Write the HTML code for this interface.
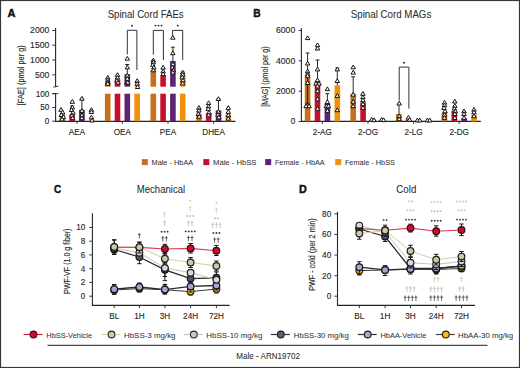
<!DOCTYPE html>
<html><head><meta charset="utf-8"><style>
html,body{margin:0;padding:0;background:#fff;}
svg{display:block;font-family:"Liberation Sans", sans-serif;}
text{stroke-width:0.12px;}
</style></head><body>
<svg width="520" height="368" viewBox="0 0 520 368">
<rect width="520" height="368" fill="#fff"/>
<rect x="0.55" y="0.55" width="518.9" height="366.9" fill="none" stroke="#383838" stroke-width="1.1"/>
<text x="7.4" y="17.2" font-size="11.4" text-anchor="start" fill="#111" stroke="#111" font-weight="bold" textLength="8.0" lengthAdjust="spacingAndGlyphs" style="stroke-width:0.45px">A</text>
<text x="253.2" y="17.2" font-size="11.4" text-anchor="start" fill="#111" stroke="#111" font-weight="bold" textLength="7.4" lengthAdjust="spacingAndGlyphs" style="stroke-width:0.45px">B</text>
<text x="54.0" y="192.5" font-size="11.4" text-anchor="start" fill="#111" stroke="#111" font-weight="bold" textLength="7.2" lengthAdjust="spacingAndGlyphs" style="stroke-width:0.45px">C</text>
<text x="299.0" y="192.5" font-size="11.4" text-anchor="start" fill="#111" stroke="#111" font-weight="bold" textLength="7.8" lengthAdjust="spacingAndGlyphs" style="stroke-width:0.45px">D</text>
<text x="107.7" y="17.7" font-size="10.4" text-anchor="start" fill="#2a2a2a" stroke="#2a2a2a" font-weight="normal" textLength="76" lengthAdjust="spacingAndGlyphs" style="stroke-width:0.05px">Spinal Cord FAEs</text>
<text x="350.8" y="17.7" font-size="10.4" text-anchor="start" fill="#2a2a2a" stroke="#2a2a2a" font-weight="normal" textLength="80.5" lengthAdjust="spacingAndGlyphs" style="stroke-width:0.05px">Spinal Cord MAGs</text>
<text x="136.8" y="192.7" font-size="10.4" text-anchor="start" fill="#2a2a2a" stroke="#2a2a2a" font-weight="normal" textLength="48.3" lengthAdjust="spacingAndGlyphs" style="stroke-width:0.05px">Mechanical</text>
<text x="396.3" y="192.7" font-size="10.4" text-anchor="start" fill="#2a2a2a" stroke="#2a2a2a" font-weight="normal" textLength="20" lengthAdjust="spacingAndGlyphs" style="stroke-width:0.05px">Cold</text>
<line x1="55.6" y1="28" x2="55.6" y2="86.7" stroke="#262626" stroke-width="1.1" />
<line x1="53.4" y1="87.2" x2="58.3" y2="86.2" stroke="#262626" stroke-width="0.9" />
<line x1="52.2" y1="30.5" x2="55.6" y2="30.5" stroke="#262626" stroke-width="0.9" />
<text x="49.3" y="33.4" font-size="8.2" text-anchor="end" fill="#262626" stroke="#262626" font-weight="normal" textLength="19.2" lengthAdjust="spacingAndGlyphs" >2000</text>
<line x1="52.2" y1="45.2" x2="55.6" y2="45.2" stroke="#262626" stroke-width="0.9" />
<text x="49.3" y="48.1" font-size="8.2" text-anchor="end" fill="#262626" stroke="#262626" font-weight="normal" textLength="19.2" lengthAdjust="spacingAndGlyphs" >1500</text>
<line x1="52.2" y1="60.0" x2="55.6" y2="60.0" stroke="#262626" stroke-width="0.9" />
<text x="49.3" y="62.9" font-size="8.2" text-anchor="end" fill="#262626" stroke="#262626" font-weight="normal" textLength="19.2" lengthAdjust="spacingAndGlyphs" >1000</text>
<line x1="52.2" y1="74.8" x2="55.6" y2="74.8" stroke="#262626" stroke-width="0.9" />
<text x="49.3" y="77.7" font-size="8.2" text-anchor="end" fill="#262626" stroke="#262626" font-weight="normal" textLength="14.4" lengthAdjust="spacingAndGlyphs" >500</text>
<line x1="55.6" y1="93.6" x2="55.6" y2="121.5" stroke="#262626" stroke-width="1.1" />
<line x1="52.2" y1="93.6" x2="58.3" y2="93.6" stroke="#262626" stroke-width="0.9" />
<line x1="52.2" y1="93.7" x2="55.6" y2="93.7" stroke="#262626" stroke-width="0.9" />
<text x="49.3" y="96.60000000000001" font-size="8.2" text-anchor="end" fill="#262626" stroke="#262626" font-weight="normal" >100</text>
<line x1="52.2" y1="107.5" x2="55.6" y2="107.5" stroke="#262626" stroke-width="0.9" />
<text x="49.3" y="110.4" font-size="8.2" text-anchor="end" fill="#262626" stroke="#262626" font-weight="normal" >50</text>
<line x1="52.2" y1="121.2" x2="55.6" y2="121.2" stroke="#262626" stroke-width="0.9" />
<text x="49.3" y="124.10000000000001" font-size="8.2" text-anchor="end" fill="#262626" stroke="#262626" font-weight="normal" >0</text>
<line x1="55.1" y1="121.4" x2="235.5" y2="121.4" stroke="#262626" stroke-width="1.1" />
<text x="0" y="0" font-size="8.3" fill="#262626" stroke="#262626" text-anchor="middle" textLength="60" lengthAdjust="spacingAndGlyphs" transform="translate(23.6,75.2) rotate(-90)">[FAE] (pmol per g)</text>
<line x1="77.0" y1="121.3" x2="77.0" y2="123.8" stroke="#262626" stroke-width="0.9" />
<text x="77.0" y="135.0" font-size="8.2" text-anchor="middle" fill="#262626" stroke="#262626" font-weight="normal" >AEA</text>
<line x1="122.4" y1="121.3" x2="122.4" y2="123.8" stroke="#262626" stroke-width="0.9" />
<text x="122.4" y="135.0" font-size="8.2" text-anchor="middle" fill="#262626" stroke="#262626" font-weight="normal" >OEA</text>
<line x1="168.0" y1="121.3" x2="168.0" y2="123.8" stroke="#262626" stroke-width="0.9" />
<text x="168.0" y="135.0" font-size="8.2" text-anchor="middle" fill="#262626" stroke="#262626" font-weight="normal" >PEA</text>
<line x1="213.6" y1="121.3" x2="213.6" y2="123.8" stroke="#262626" stroke-width="0.9" />
<text x="213.6" y="135.0" font-size="8.2" text-anchor="middle" fill="#262626" stroke="#262626" font-weight="normal" >DHEA</text>
<line x1="301.4" y1="28" x2="301.4" y2="121.9" stroke="#262626" stroke-width="1.1" />
<line x1="298.6" y1="30.5" x2="301.4" y2="30.5" stroke="#262626" stroke-width="0.9" />
<text x="295.2" y="33.4" font-size="8.2" text-anchor="end" fill="#262626" stroke="#262626" font-weight="normal" textLength="19.2" lengthAdjust="spacingAndGlyphs" >6000</text>
<line x1="298.6" y1="60.8" x2="301.4" y2="60.8" stroke="#262626" stroke-width="0.9" />
<text x="295.2" y="63.699999999999996" font-size="8.2" text-anchor="end" fill="#262626" stroke="#262626" font-weight="normal" textLength="19.2" lengthAdjust="spacingAndGlyphs" >4000</text>
<line x1="298.6" y1="91.2" x2="301.4" y2="91.2" stroke="#262626" stroke-width="0.9" />
<text x="295.2" y="94.10000000000001" font-size="8.2" text-anchor="end" fill="#262626" stroke="#262626" font-weight="normal" textLength="19.2" lengthAdjust="spacingAndGlyphs" >2000</text>
<line x1="298.6" y1="121.5" x2="301.4" y2="121.5" stroke="#262626" stroke-width="0.9" />
<text x="295.2" y="124.4" font-size="8.2" text-anchor="end" fill="#262626" stroke="#262626" font-weight="normal" >0</text>
<line x1="300.9" y1="121.4" x2="480.8" y2="121.4" stroke="#262626" stroke-width="1.1" />
<text x="0" y="0" font-size="8.3" fill="#262626" stroke="#262626" text-anchor="middle" textLength="60.5" lengthAdjust="spacingAndGlyphs" transform="translate(268.4,76.6) rotate(-90)">[MAG] (pmol per g)</text>
<line x1="322.4" y1="121.6" x2="322.4" y2="124.0" stroke="#262626" stroke-width="0.9" />
<text x="322.4" y="135.3" font-size="8.2" text-anchor="middle" fill="#262626" stroke="#262626" font-weight="normal" >2-AG</text>
<line x1="368.0" y1="121.6" x2="368.0" y2="124.0" stroke="#262626" stroke-width="0.9" />
<text x="368.0" y="135.3" font-size="8.2" text-anchor="middle" fill="#262626" stroke="#262626" font-weight="normal" >2-OG</text>
<line x1="413.6" y1="121.6" x2="413.6" y2="124.0" stroke="#262626" stroke-width="0.9" />
<text x="413.6" y="135.3" font-size="8.2" text-anchor="middle" fill="#262626" stroke="#262626" font-weight="normal" >2-LG</text>
<line x1="459.2" y1="121.6" x2="459.2" y2="124.0" stroke="#262626" stroke-width="0.9" />
<text x="459.2" y="135.3" font-size="8.2" text-anchor="middle" fill="#262626" stroke="#262626" font-weight="normal" >2-DG</text>
<rect x="141.8" y="159.1" width="6.0" height="6.0" fill="#c4701c" />
<text x="151.5" y="165.1" font-size="8.0" text-anchor="start" fill="#333" stroke="#333" font-weight="normal" textLength="41.7" lengthAdjust="spacingAndGlyphs" style="stroke-width:0.05px">Male - HbAA</text>
<rect x="203.3" y="159.1" width="6.0" height="6.0" fill="#c8102e" />
<text x="213.0" y="165.1" font-size="8.0" text-anchor="start" fill="#333" stroke="#333" font-weight="normal" textLength="43.5" lengthAdjust="spacingAndGlyphs" style="stroke-width:0.05px">Male - HbSS</text>
<rect x="265.2" y="159.1" width="6.0" height="6.0" fill="#5b2372" />
<text x="274.9" y="165.1" font-size="8.0" text-anchor="start" fill="#333" stroke="#333" font-weight="normal" textLength="49.8" lengthAdjust="spacingAndGlyphs" style="stroke-width:0.05px">Female - HbAA</text>
<rect x="335.2" y="159.1" width="6.0" height="6.0" fill="#f0900c" />
<text x="344.9" y="165.1" font-size="8.0" text-anchor="start" fill="#333" stroke="#333" font-weight="normal" textLength="50.0" lengthAdjust="spacingAndGlyphs" style="stroke-width:0.05px">Female - HbSS</text>
<line x1="92.4" y1="213.3" x2="92.4" y2="305.9" stroke="#262626" stroke-width="1.1" />
<line x1="89.2" y1="296.2" x2="92.4" y2="296.2" stroke="#262626" stroke-width="0.9" />
<text x="85.4" y="299.09999999999997" font-size="8.2" text-anchor="end" fill="#262626" stroke="#262626" font-weight="normal" >0</text>
<line x1="89.2" y1="282.44" x2="92.4" y2="282.44" stroke="#262626" stroke-width="0.9" />
<text x="85.4" y="285.34" font-size="8.2" text-anchor="end" fill="#262626" stroke="#262626" font-weight="normal" >2</text>
<line x1="89.2" y1="268.68" x2="92.4" y2="268.68" stroke="#262626" stroke-width="0.9" />
<text x="85.4" y="271.58" font-size="8.2" text-anchor="end" fill="#262626" stroke="#262626" font-weight="normal" >4</text>
<line x1="89.2" y1="254.92" x2="92.4" y2="254.92" stroke="#262626" stroke-width="0.9" />
<text x="85.4" y="257.82" font-size="8.2" text-anchor="end" fill="#262626" stroke="#262626" font-weight="normal" >6</text>
<line x1="89.2" y1="241.16" x2="92.4" y2="241.16" stroke="#262626" stroke-width="0.9" />
<text x="85.4" y="244.06" font-size="8.2" text-anchor="end" fill="#262626" stroke="#262626" font-weight="normal" >8</text>
<line x1="89.2" y1="227.39999999999998" x2="92.4" y2="227.39999999999998" stroke="#262626" stroke-width="0.9" />
<text x="85.4" y="230.29999999999998" font-size="8.2" text-anchor="end" fill="#262626" stroke="#262626" font-weight="normal" >10</text>
<line x1="91.9" y1="305.4" x2="229.6" y2="305.4" stroke="#262626" stroke-width="1.1" />
<text x="0" y="0" font-size="8.3" fill="#262626" stroke="#262626" text-anchor="middle" textLength="65.5" lengthAdjust="spacingAndGlyphs" transform="translate(69.8,261.3) rotate(-90)">PWF-VF (1.0 g fiber)</text>
<line x1="114.2" y1="305.2" x2="114.2" y2="308.2" stroke="#262626" stroke-width="0.9" />
<text x="114.2" y="318.8" font-size="8.2" text-anchor="middle" fill="#262626" stroke="#262626" font-weight="normal" >BL</text>
<line x1="139.4" y1="305.2" x2="139.4" y2="308.2" stroke="#262626" stroke-width="0.9" />
<text x="139.4" y="318.8" font-size="8.2" text-anchor="middle" fill="#262626" stroke="#262626" font-weight="normal" >1H</text>
<line x1="164.9" y1="305.2" x2="164.9" y2="308.2" stroke="#262626" stroke-width="0.9" />
<text x="164.9" y="318.8" font-size="8.2" text-anchor="middle" fill="#262626" stroke="#262626" font-weight="normal" >3H</text>
<line x1="190.6" y1="305.2" x2="190.6" y2="308.2" stroke="#262626" stroke-width="0.9" />
<text x="190.6" y="318.8" font-size="8.2" text-anchor="middle" fill="#262626" stroke="#262626" font-weight="normal" >24H</text>
<line x1="216.4" y1="305.2" x2="216.4" y2="308.2" stroke="#262626" stroke-width="0.9" />
<text x="216.4" y="318.8" font-size="8.2" text-anchor="middle" fill="#262626" stroke="#262626" font-weight="normal" >72H</text>
<line x1="337.5" y1="211.8" x2="337.5" y2="305.9" stroke="#262626" stroke-width="1.1" />
<line x1="334.4" y1="296.2" x2="337.5" y2="296.2" stroke="#262626" stroke-width="0.9" />
<text x="331.2" y="299.09999999999997" font-size="8.2" text-anchor="end" fill="#262626" stroke="#262626" font-weight="normal" >0</text>
<line x1="334.4" y1="275.64" x2="337.5" y2="275.64" stroke="#262626" stroke-width="0.9" />
<text x="331.2" y="278.53999999999996" font-size="8.2" text-anchor="end" fill="#262626" stroke="#262626" font-weight="normal" >20</text>
<line x1="334.4" y1="255.07999999999998" x2="337.5" y2="255.07999999999998" stroke="#262626" stroke-width="0.9" />
<text x="331.2" y="257.97999999999996" font-size="8.2" text-anchor="end" fill="#262626" stroke="#262626" font-weight="normal" >40</text>
<line x1="334.4" y1="234.51999999999998" x2="337.5" y2="234.51999999999998" stroke="#262626" stroke-width="0.9" />
<text x="331.2" y="237.42" font-size="8.2" text-anchor="end" fill="#262626" stroke="#262626" font-weight="normal" >60</text>
<line x1="334.4" y1="213.95999999999998" x2="337.5" y2="213.95999999999998" stroke="#262626" stroke-width="0.9" />
<text x="331.2" y="216.85999999999999" font-size="8.2" text-anchor="end" fill="#262626" stroke="#262626" font-weight="normal" >80</text>
<line x1="337.0" y1="305.4" x2="475.0" y2="305.4" stroke="#262626" stroke-width="1.1" />
<text x="0" y="0" font-size="8.3" fill="#262626" stroke="#262626" text-anchor="middle" textLength="72.5" lengthAdjust="spacingAndGlyphs" transform="translate(314.6,254.6) rotate(-90)">PWF - cold (per 2 min)</text>
<line x1="359.3" y1="305.2" x2="359.3" y2="308.2" stroke="#262626" stroke-width="0.9" />
<text x="359.3" y="318.8" font-size="8.2" text-anchor="middle" fill="#262626" stroke="#262626" font-weight="normal" >BL</text>
<line x1="385.1" y1="305.2" x2="385.1" y2="308.2" stroke="#262626" stroke-width="0.9" />
<text x="385.1" y="318.8" font-size="8.2" text-anchor="middle" fill="#262626" stroke="#262626" font-weight="normal" >1H</text>
<line x1="410.5" y1="305.2" x2="410.5" y2="308.2" stroke="#262626" stroke-width="0.9" />
<text x="410.5" y="318.8" font-size="8.2" text-anchor="middle" fill="#262626" stroke="#262626" font-weight="normal" >3H</text>
<line x1="436.2" y1="305.2" x2="436.2" y2="308.2" stroke="#262626" stroke-width="0.9" />
<text x="436.2" y="318.8" font-size="8.2" text-anchor="middle" fill="#262626" stroke="#262626" font-weight="normal" >24H</text>
<line x1="461.5" y1="305.2" x2="461.5" y2="308.2" stroke="#262626" stroke-width="0.9" />
<text x="461.5" y="318.8" font-size="8.2" text-anchor="middle" fill="#262626" stroke="#262626" font-weight="normal" >72H</text>
<line x1="23.5" y1="334.5" x2="42.5" y2="334.5" stroke="#d0203a" stroke-width="1.2" />
<circle cx="33.5" cy="334.5" r="3.4" fill="#c8102e" stroke="#4a0a14" stroke-width="1.1"/>
<text x="46.3" y="337.5" font-size="8.0" text-anchor="start" fill="#333" stroke="#333" font-weight="normal" textLength="45.7" lengthAdjust="spacingAndGlyphs" style="stroke-width:0.05px">HbSS-Vehicle</text>
<line x1="101.5" y1="334.5" x2="120.5" y2="334.5" stroke="#d6dab0" stroke-width="1.2" />
<circle cx="111.5" cy="334.5" r="3.4" fill="#c2cea6" stroke="#2a2a2a" stroke-width="1.1"/>
<text x="124.0" y="337.5" font-size="8.0" text-anchor="start" fill="#333" stroke="#333" font-weight="normal" textLength="51.5" lengthAdjust="spacingAndGlyphs" style="stroke-width:0.05px">HbSS-3 mg/kg</text>
<line x1="183.8" y1="334.5" x2="202.8" y2="334.5" stroke="#c8c8c8" stroke-width="1.2" />
<circle cx="193.8" cy="334.5" r="3.4" fill="#c9c9cc" stroke="#2a2a2a" stroke-width="1.1"/>
<text x="206.3" y="337.5" font-size="8.0" text-anchor="start" fill="#333" stroke="#333" font-weight="normal" textLength="56.0" lengthAdjust="spacingAndGlyphs" style="stroke-width:0.05px">HbSS-10 mg/kg</text>
<line x1="270.8" y1="334.5" x2="289.8" y2="334.5" stroke="#2e2e2e" stroke-width="1.2" />
<circle cx="280.8" cy="334.5" r="3.4" fill="#596177" stroke="#1e1e24" stroke-width="1.1"/>
<text x="293.8" y="337.5" font-size="8.0" text-anchor="start" fill="#333" stroke="#333" font-weight="normal" textLength="55.0" lengthAdjust="spacingAndGlyphs" style="stroke-width:0.05px">HbSS-30 mg/kg</text>
<line x1="357.7" y1="334.5" x2="376.7" y2="334.5" stroke="#2e2e2e" stroke-width="1.2" />
<circle cx="367.7" cy="334.5" r="3.4" fill="#a5a5d6" stroke="#1e1e24" stroke-width="1.1"/>
<text x="380.4" y="337.5" font-size="8.0" text-anchor="start" fill="#333" stroke="#333" font-weight="normal" textLength="46.0" lengthAdjust="spacingAndGlyphs" style="stroke-width:0.05px">HbAA-Vehicle</text>
<line x1="435.8" y1="334.5" x2="454.8" y2="334.5" stroke="#444" stroke-width="1.2" />
<circle cx="445.8" cy="334.5" r="3.4" fill="#f4bd2a" stroke="#2e2200" stroke-width="1.1"/>
<text x="458.0" y="337.5" font-size="8.0" text-anchor="start" fill="#333" stroke="#333" font-weight="normal" textLength="55.2" lengthAdjust="spacingAndGlyphs" style="stroke-width:0.05px">HbAA-30 mg/kg</text>
<line x1="47.5" y1="345.3" x2="487.5" y2="345.3" stroke="#222" stroke-width="1" />
<text x="236.3" y="359.1" font-size="8.5" text-anchor="start" fill="#2a2a2a" stroke="#2a2a2a" font-weight="normal" textLength="63.7" lengthAdjust="spacingAndGlyphs" style="stroke-width:0.05px">Male - ARN19702</text>
<rect x="59.5" y="114.5" width="5.6" height="6.700000000000003" fill="#c4701c" />
<rect x="69.3" y="114.3" width="5.6" height="6.900000000000006" fill="#c8102e" />
<rect x="79.10000000000001" y="109.8" width="5.6" height="11.400000000000006" fill="#5b2372" />
<rect x="88.9" y="119.4" width="5.6" height="1.7999999999999972" fill="#f0900c" />
<rect x="104.9" y="93.7" width="5.6" height="27.5" fill="#c4701c" />
<rect x="104.9" y="82.3" width="5.6" height="4.400000000000006" fill="#c4701c" />
<rect x="114.7" y="93.7" width="5.6" height="27.5" fill="#c8102e" />
<rect x="114.7" y="79.8" width="5.6" height="6.900000000000006" fill="#c8102e" />
<rect x="124.50000000000001" y="93.7" width="5.6" height="27.5" fill="#5b2372" />
<rect x="124.50000000000001" y="74.2" width="5.6" height="12.5" fill="#5b2372" />
<rect x="134.29999999999998" y="93.7" width="5.6" height="27.5" fill="#f0900c" />
<rect x="134.29999999999998" y="85.6" width="5.6" height="1.1000000000000085" fill="#f0900c" />
<rect x="150.5" y="93.7" width="5.6" height="27.5" fill="#c4701c" />
<rect x="150.5" y="70.7" width="5.6" height="16.0" fill="#c4701c" />
<rect x="160.29999999999998" y="93.7" width="5.6" height="27.5" fill="#c8102e" />
<rect x="160.29999999999998" y="75.5" width="5.6" height="11.200000000000003" fill="#c8102e" />
<rect x="170.1" y="93.7" width="5.6" height="27.5" fill="#5b2372" />
<rect x="170.1" y="60.9" width="5.6" height="25.800000000000004" fill="#5b2372" />
<rect x="179.89999999999998" y="93.7" width="5.6" height="27.5" fill="#f0900c" />
<rect x="179.89999999999998" y="75.5" width="5.6" height="11.200000000000003" fill="#f0900c" />
<rect x="196.1" y="113.8" width="5.6" height="7.400000000000006" fill="#c4701c" />
<rect x="205.89999999999998" y="113.1" width="5.6" height="8.100000000000009" fill="#c8102e" />
<rect x="215.7" y="110.4" width="5.6" height="10.799999999999997" fill="#5b2372" />
<rect x="225.49999999999997" y="114.5" width="5.6" height="6.700000000000003" fill="#f0900c" />
<line x1="72.1" y1="106.0" x2="72.1" y2="114.3" stroke="#111" stroke-width="0.9" />
<line x1="70.1" y1="106.0" x2="74.1" y2="106.0" stroke="#111" stroke-width="0.9" />
<line x1="81.9" y1="98.6" x2="81.9" y2="109.8" stroke="#111" stroke-width="0.9" />
<line x1="79.9" y1="98.6" x2="83.9" y2="98.6" stroke="#111" stroke-width="0.9" />
<line x1="127.30000000000001" y1="64.5" x2="127.30000000000001" y2="74.2" stroke="#111" stroke-width="0.9" />
<line x1="125.30000000000001" y1="64.5" x2="129.3" y2="64.5" stroke="#111" stroke-width="0.9" />
<line x1="153.3" y1="60.3" x2="153.3" y2="70.7" stroke="#111" stroke-width="0.9" />
<line x1="151.3" y1="60.3" x2="155.3" y2="60.3" stroke="#111" stroke-width="0.9" />
<line x1="163.1" y1="72.3" x2="163.1" y2="75.5" stroke="#111" stroke-width="0.9" />
<line x1="161.1" y1="72.3" x2="165.1" y2="72.3" stroke="#111" stroke-width="0.9" />
<line x1="172.9" y1="47.2" x2="172.9" y2="60.9" stroke="#111" stroke-width="0.9" />
<line x1="170.9" y1="47.2" x2="174.9" y2="47.2" stroke="#111" stroke-width="0.9" />
<line x1="182.7" y1="72.0" x2="182.7" y2="75.5" stroke="#111" stroke-width="0.9" />
<line x1="180.7" y1="72.0" x2="184.7" y2="72.0" stroke="#111" stroke-width="0.9" />
<line x1="218.5" y1="98.8" x2="218.5" y2="110.4" stroke="#111" stroke-width="0.9" />
<line x1="216.5" y1="98.8" x2="220.5" y2="98.8" stroke="#111" stroke-width="0.9" />
<path d="M61.00,107.50 L63.25,111.30 L58.75,111.30 Z" fill="#fff" stroke="#151515" stroke-width="1.0" stroke-linejoin="round"/>
<path d="M62.60,110.10 L64.85,113.90 L60.35,113.90 Z" fill="#fff" stroke="#151515" stroke-width="1.0" stroke-linejoin="round"/>
<path d="M61.40,112.70 L63.65,116.50 L59.15,116.50 Z" fill="#fff" stroke="#151515" stroke-width="1.0" stroke-linejoin="round"/>
<path d="M63.40,114.90 L65.65,118.70 L61.15,118.70 Z" fill="#fff" stroke="#151515" stroke-width="1.0" stroke-linejoin="round"/>
<path d="M62.00,117.10 L64.25,120.90 L59.75,120.90 Z" fill="#fff" stroke="#151515" stroke-width="1.0" stroke-linejoin="round"/>
<path d="M72.30,99.50 L74.55,103.30 L70.05,103.30 Z" fill="#fff" stroke="#151515" stroke-width="1.0" stroke-linejoin="round"/>
<path d="M72.30,105.10 L74.55,108.90 L70.05,108.90 Z" fill="#fff" stroke="#151515" stroke-width="1.0" stroke-linejoin="round"/>
<path d="M71.60,107.70 L73.85,111.50 L69.35,111.50 Z" fill="#fff" stroke="#151515" stroke-width="1.0" stroke-linejoin="round"/>
<path d="M73.00,110.30 L75.25,114.10 L70.75,114.10 Z" fill="#fff" stroke="#151515" stroke-width="1.0" stroke-linejoin="round"/>
<path d="M72.00,113.40 L74.25,117.20 L69.75,117.20 Z" fill="#fff" stroke="#151515" stroke-width="1.0" stroke-linejoin="round"/>
<path d="M72.60,115.90 L74.85,119.70 L70.35,119.70 Z" fill="#fff" stroke="#151515" stroke-width="1.0" stroke-linejoin="round"/>
<path d="M81.90,96.40 L84.15,100.20 L79.65,100.20 Z" fill="#fff" stroke="#151515" stroke-width="1.0" stroke-linejoin="round"/>
<path d="M81.90,108.60 L84.15,112.40 L79.65,112.40 Z" fill="#fff" stroke="#151515" stroke-width="1.0" stroke-linejoin="round"/>
<path d="M81.90,112.90 L84.15,116.70 L79.65,116.70 Z" fill="#fff" stroke="#151515" stroke-width="1.0" stroke-linejoin="round"/>
<path d="M81.90,115.90 L84.15,119.70 L79.65,119.70 Z" fill="#fff" stroke="#151515" stroke-width="1.0" stroke-linejoin="round"/>
<path d="M91.40,107.70 L93.65,111.50 L89.15,111.50 Z" fill="#fff" stroke="#151515" stroke-width="1.0" stroke-linejoin="round"/>
<path d="M91.40,109.70 L93.65,113.50 L89.15,113.50 Z" fill="#fff" stroke="#151515" stroke-width="1.0" stroke-linejoin="round"/>
<path d="M91.40,115.10 L93.65,118.90 L89.15,118.90 Z" fill="#fff" stroke="#151515" stroke-width="1.0" stroke-linejoin="round"/>
<path d="M92.00,118.20 L94.25,122.00 L89.75,122.00 Z" fill="#fff" stroke="#151515" stroke-width="1.0" stroke-linejoin="round"/>
<path d="M107.80,75.40 L110.05,79.20 L105.55,79.20 Z" fill="#fff" stroke="#151515" stroke-width="1.0" stroke-linejoin="round"/>
<path d="M107.80,77.70 L110.05,81.50 L105.55,81.50 Z" fill="#fff" stroke="#151515" stroke-width="1.0" stroke-linejoin="round"/>
<path d="M107.80,79.90 L110.05,83.70 L105.55,83.70 Z" fill="#fff" stroke="#151515" stroke-width="1.0" stroke-linejoin="round"/>
<path d="M107.80,81.50 L110.05,85.30 L105.55,85.30 Z" fill="#fff" stroke="#151515" stroke-width="1.0" stroke-linejoin="round"/>
<path d="M117.50,72.70 L119.75,76.50 L115.25,76.50 Z" fill="#fff" stroke="#151515" stroke-width="1.0" stroke-linejoin="round"/>
<path d="M117.50,75.40 L119.75,79.20 L115.25,79.20 Z" fill="#fff" stroke="#151515" stroke-width="1.0" stroke-linejoin="round"/>
<path d="M117.00,78.20 L119.25,82.00 L114.75,82.00 Z" fill="#fff" stroke="#151515" stroke-width="1.0" stroke-linejoin="round"/>
<path d="M118.00,80.30 L120.25,84.10 L115.75,84.10 Z" fill="#fff" stroke="#151515" stroke-width="1.0" stroke-linejoin="round"/>
<path d="M127.30,56.40 L129.55,60.20 L125.05,60.20 Z" fill="#fff" stroke="#151515" stroke-width="1.0" stroke-linejoin="round"/>
<path d="M127.30,65.10 L129.55,68.90 L125.05,68.90 Z" fill="#fff" stroke="#151515" stroke-width="1.0" stroke-linejoin="round"/>
<path d="M127.30,73.30 L129.55,77.10 L125.05,77.10 Z" fill="#fff" stroke="#151515" stroke-width="1.0" stroke-linejoin="round"/>
<path d="M127.30,76.50 L129.55,80.30 L125.05,80.30 Z" fill="#fff" stroke="#151515" stroke-width="1.0" stroke-linejoin="round"/>
<path d="M126.80,80.30 L129.05,84.10 L124.55,84.10 Z" fill="#fff" stroke="#151515" stroke-width="1.0" stroke-linejoin="round"/>
<path d="M127.80,80.30 L130.05,84.10 L125.55,84.10 Z" fill="#fff" stroke="#151515" stroke-width="1.0" stroke-linejoin="round"/>
<path d="M137.20,78.70 L139.45,82.50 L134.95,82.50 Z" fill="#fff" stroke="#151515" stroke-width="1.0" stroke-linejoin="round"/>
<path d="M137.20,81.40 L139.45,85.20 L134.95,85.20 Z" fill="#fff" stroke="#151515" stroke-width="1.0" stroke-linejoin="round"/>
<path d="M137.60,84.70 L139.85,88.50 L135.35,88.50 Z" fill="#fff" stroke="#151515" stroke-width="1.0" stroke-linejoin="round"/>
<path d="M153.30,58.20 L155.55,62.00 L151.05,62.00 Z" fill="#fff" stroke="#151515" stroke-width="1.0" stroke-linejoin="round"/>
<path d="M153.30,60.10 L155.55,63.90 L151.05,63.90 Z" fill="#fff" stroke="#151515" stroke-width="1.0" stroke-linejoin="round"/>
<path d="M152.80,62.60 L155.05,66.40 L150.55,66.40 Z" fill="#fff" stroke="#151515" stroke-width="1.0" stroke-linejoin="round"/>
<path d="M153.80,65.30 L156.05,69.10 L151.55,69.10 Z" fill="#fff" stroke="#151515" stroke-width="1.0" stroke-linejoin="round"/>
<path d="M153.30,68.00 L155.55,71.80 L151.05,71.80 Z" fill="#fff" stroke="#151515" stroke-width="1.0" stroke-linejoin="round"/>
<path d="M163.10,65.30 L165.35,69.10 L160.85,69.10 Z" fill="#fff" stroke="#151515" stroke-width="1.0" stroke-linejoin="round"/>
<path d="M163.10,69.10 L165.35,72.90 L160.85,72.90 Z" fill="#fff" stroke="#151515" stroke-width="1.0" stroke-linejoin="round"/>
<path d="M163.10,71.80 L165.35,75.60 L160.85,75.60 Z" fill="#fff" stroke="#151515" stroke-width="1.0" stroke-linejoin="round"/>
<path d="M172.80,35.40 L175.05,39.20 L170.55,39.20 Z" fill="#fff" stroke="#151515" stroke-width="1.0" stroke-linejoin="round"/>
<path d="M172.80,50.90 L175.05,54.70 L170.55,54.70 Z" fill="#fff" stroke="#151515" stroke-width="1.0" stroke-linejoin="round"/>
<path d="M172.80,62.00 L175.05,65.80 L170.55,65.80 Z" fill="#fff" stroke="#151515" stroke-width="1.0" stroke-linejoin="round"/>
<path d="M172.30,65.30 L174.55,69.10 L170.05,69.10 Z" fill="#fff" stroke="#151515" stroke-width="1.0" stroke-linejoin="round"/>
<path d="M173.30,68.00 L175.55,71.80 L171.05,71.80 Z" fill="#fff" stroke="#151515" stroke-width="1.0" stroke-linejoin="round"/>
<path d="M172.80,70.20 L175.05,74.00 L170.55,74.00 Z" fill="#fff" stroke="#151515" stroke-width="1.0" stroke-linejoin="round"/>
<path d="M182.70,70.20 L184.95,74.00 L180.45,74.00 Z" fill="#fff" stroke="#151515" stroke-width="1.0" stroke-linejoin="round"/>
<path d="M182.70,72.40 L184.95,76.20 L180.45,76.20 Z" fill="#fff" stroke="#151515" stroke-width="1.0" stroke-linejoin="round"/>
<path d="M182.20,75.10 L184.45,78.90 L179.95,78.90 Z" fill="#fff" stroke="#151515" stroke-width="1.0" stroke-linejoin="round"/>
<path d="M183.00,78.30 L185.25,82.10 L180.75,82.10 Z" fill="#fff" stroke="#151515" stroke-width="1.0" stroke-linejoin="round"/>
<path d="M182.70,81.10 L184.95,84.90 L180.45,84.90 Z" fill="#fff" stroke="#151515" stroke-width="1.0" stroke-linejoin="round"/>
<path d="M198.90,105.60 L201.15,109.40 L196.65,109.40 Z" fill="#fff" stroke="#151515" stroke-width="1.0" stroke-linejoin="round"/>
<path d="M198.90,108.30 L201.15,112.10 L196.65,112.10 Z" fill="#fff" stroke="#151515" stroke-width="1.0" stroke-linejoin="round"/>
<path d="M198.40,111.70 L200.65,115.50 L196.15,115.50 Z" fill="#fff" stroke="#151515" stroke-width="1.0" stroke-linejoin="round"/>
<path d="M199.20,114.40 L201.45,118.20 L196.95,118.20 Z" fill="#fff" stroke="#151515" stroke-width="1.0" stroke-linejoin="round"/>
<path d="M208.60,100.80 L210.85,104.60 L206.35,104.60 Z" fill="#fff" stroke="#151515" stroke-width="1.0" stroke-linejoin="round"/>
<path d="M208.60,104.20 L210.85,108.00 L206.35,108.00 Z" fill="#fff" stroke="#151515" stroke-width="1.0" stroke-linejoin="round"/>
<path d="M208.20,106.90 L210.45,110.70 L205.95,110.70 Z" fill="#fff" stroke="#151515" stroke-width="1.0" stroke-linejoin="round"/>
<path d="M209.00,110.30 L211.25,114.10 L206.75,114.10 Z" fill="#fff" stroke="#151515" stroke-width="1.0" stroke-linejoin="round"/>
<path d="M208.60,113.00 L210.85,116.80 L206.35,116.80 Z" fill="#fff" stroke="#151515" stroke-width="1.0" stroke-linejoin="round"/>
<path d="M218.40,96.70 L220.65,100.50 L216.15,100.50 Z" fill="#fff" stroke="#151515" stroke-width="1.0" stroke-linejoin="round"/>
<path d="M218.40,109.60 L220.65,113.40 L216.15,113.40 Z" fill="#fff" stroke="#151515" stroke-width="1.0" stroke-linejoin="round"/>
<path d="M218.00,112.40 L220.25,116.20 L215.75,116.20 Z" fill="#fff" stroke="#151515" stroke-width="1.0" stroke-linejoin="round"/>
<path d="M218.80,115.10 L221.05,118.90 L216.55,118.90 Z" fill="#fff" stroke="#151515" stroke-width="1.0" stroke-linejoin="round"/>
<path d="M228.30,105.60 L230.55,109.40 L226.05,109.40 Z" fill="#fff" stroke="#151515" stroke-width="1.0" stroke-linejoin="round"/>
<path d="M228.30,109.60 L230.55,113.40 L226.05,113.40 Z" fill="#fff" stroke="#151515" stroke-width="1.0" stroke-linejoin="round"/>
<path d="M228.30,113.00 L230.55,116.80 L226.05,116.80 Z" fill="#fff" stroke="#151515" stroke-width="1.0" stroke-linejoin="round"/>
<path d="M228.30,116.40 L230.55,120.20 L226.05,120.20 Z" fill="#fff" stroke="#151515" stroke-width="1.0" stroke-linejoin="round"/>
<path d="M127.3,54.4 V30.3 H136.9 V70" fill="none" stroke="#333" stroke-width="1"/>
<path d="M153.3,54.6 V30.4 H163.4 V60" fill="none" stroke="#333" stroke-width="1"/>
<path d="M172.6,36.5 V30.4 H182.7 V60" fill="none" stroke="#333" stroke-width="1"/>
<circle cx="132.10" cy="25.8" r="0.95" fill="#222"/>
<circle cx="155.50" cy="25.6" r="0.95" fill="#222"/>
<circle cx="158.50" cy="25.6" r="0.95" fill="#222"/>
<circle cx="161.50" cy="25.6" r="0.95" fill="#222"/>
<circle cx="177.80" cy="25.6" r="0.95" fill="#222"/>
<rect x="304.79999999999995" y="76.5" width="5.6" height="44.900000000000006" fill="#c4701c" />
<rect x="314.7" y="80.8" width="5.6" height="40.60000000000001" fill="#c8102e" />
<rect x="324.59999999999997" y="103.6" width="5.6" height="17.80000000000001" fill="#5b2372" />
<rect x="334.49999999999994" y="85.3" width="5.6" height="36.10000000000001" fill="#f0900c" />
<rect x="350.4" y="93.6" width="5.6" height="27.80000000000001" fill="#c4701c" />
<rect x="360.3" y="102.4" width="5.6" height="19.0" fill="#c8102e" />
<rect x="370.2" y="119.6" width="5.6" height="1.8000000000000114" fill="#5b2372" />
<rect x="380.09999999999997" y="119.8" width="5.6" height="1.6000000000000085" fill="#f0900c" />
<rect x="396.0" y="114.0" width="5.6" height="7.400000000000006" fill="#c4701c" />
<rect x="405.90000000000003" y="119.8" width="5.6" height="1.6000000000000085" fill="#c8102e" />
<rect x="415.8" y="120.4" width="5.6" height="1.0" fill="#5b2372" />
<rect x="425.7" y="120.4" width="5.6" height="1.0" fill="#f0900c" />
<rect x="441.59999999999997" y="112.7" width="5.6" height="8.700000000000003" fill="#c4701c" />
<rect x="451.5" y="111.0" width="5.6" height="10.400000000000006" fill="#c8102e" />
<rect x="461.4" y="118.4" width="5.6" height="3.0" fill="#5b2372" />
<rect x="471.29999999999995" y="114.9" width="5.6" height="6.5" fill="#f0900c" />
<line x1="307.6" y1="53.0" x2="307.6" y2="103.2" stroke="#111" stroke-width="0.9" />
<line x1="305.6" y1="53.0" x2="309.6" y2="53.0" stroke="#111" stroke-width="0.9" />
<line x1="305.6" y1="103.2" x2="309.6" y2="103.2" stroke="#111" stroke-width="0.9" />
<line x1="317.5" y1="60.0" x2="317.5" y2="80.8" stroke="#111" stroke-width="0.9" />
<line x1="315.5" y1="60.0" x2="319.5" y2="60.0" stroke="#111" stroke-width="0.9" />
<line x1="327.4" y1="93.7" x2="327.4" y2="103.6" stroke="#111" stroke-width="0.9" />
<line x1="325.4" y1="93.7" x2="329.4" y2="93.7" stroke="#111" stroke-width="0.9" />
<line x1="337.3" y1="68.0" x2="337.3" y2="85.3" stroke="#111" stroke-width="0.9" />
<line x1="335.3" y1="68.0" x2="339.3" y2="68.0" stroke="#111" stroke-width="0.9" />
<line x1="353.2" y1="76.8" x2="353.2" y2="93.6" stroke="#111" stroke-width="0.9" />
<line x1="351.2" y1="76.8" x2="355.2" y2="76.8" stroke="#111" stroke-width="0.9" />
<line x1="399.0" y1="104" x2="399.0" y2="114.0" stroke="#111" stroke-width="0.9" />
<line x1="397.0" y1="104" x2="401.0" y2="104" stroke="#111" stroke-width="0.9" />
<path d="M307.60,35.80 L309.85,39.60 L305.35,39.60 Z" fill="#fff" stroke="#151515" stroke-width="1.0" stroke-linejoin="round"/>
<path d="M307.60,61.20 L309.85,65.00 L305.35,65.00 Z" fill="#fff" stroke="#151515" stroke-width="1.0" stroke-linejoin="round"/>
<path d="M307.60,69.10 L309.85,72.90 L305.35,72.90 Z" fill="#fff" stroke="#151515" stroke-width="1.0" stroke-linejoin="round"/>
<path d="M307.60,71.70 L309.85,75.50 L305.35,75.50 Z" fill="#fff" stroke="#151515" stroke-width="1.0" stroke-linejoin="round"/>
<path d="M307.60,73.50 L309.85,77.30 L305.35,77.30 Z" fill="#fff" stroke="#151515" stroke-width="1.0" stroke-linejoin="round"/>
<path d="M307.60,80.70 L309.85,84.50 L305.35,84.50 Z" fill="#fff" stroke="#151515" stroke-width="1.0" stroke-linejoin="round"/>
<path d="M306.10,103.90 L308.35,107.70 L303.85,107.70 Z" fill="#fff" stroke="#151515" stroke-width="1.0" stroke-linejoin="round"/>
<path d="M309.10,103.90 L311.35,107.70 L306.85,107.70 Z" fill="#fff" stroke="#151515" stroke-width="1.0" stroke-linejoin="round"/>
<path d="M317.50,42.90 L319.75,46.70 L315.25,46.70 Z" fill="#fff" stroke="#151515" stroke-width="1.0" stroke-linejoin="round"/>
<path d="M317.50,46.20 L319.75,50.00 L315.25,50.00 Z" fill="#fff" stroke="#151515" stroke-width="1.0" stroke-linejoin="round"/>
<path d="M317.50,67.10 L319.75,70.90 L315.25,70.90 Z" fill="#fff" stroke="#151515" stroke-width="1.0" stroke-linejoin="round"/>
<path d="M317.50,78.00 L319.75,81.80 L315.25,81.80 Z" fill="#fff" stroke="#151515" stroke-width="1.0" stroke-linejoin="round"/>
<path d="M316.00,81.40 L318.25,85.20 L313.75,85.20 Z" fill="#fff" stroke="#151515" stroke-width="1.0" stroke-linejoin="round"/>
<path d="M319.00,81.40 L321.25,85.20 L316.75,85.20 Z" fill="#fff" stroke="#151515" stroke-width="1.0" stroke-linejoin="round"/>
<path d="M317.50,84.10 L319.75,87.90 L315.25,87.90 Z" fill="#fff" stroke="#151515" stroke-width="1.0" stroke-linejoin="round"/>
<path d="M317.50,88.90 L319.75,92.70 L315.25,92.70 Z" fill="#fff" stroke="#151515" stroke-width="1.0" stroke-linejoin="round"/>
<path d="M317.50,97.00 L319.75,100.80 L315.25,100.80 Z" fill="#fff" stroke="#151515" stroke-width="1.0" stroke-linejoin="round"/>
<path d="M317.50,106.50 L319.75,110.30 L315.25,110.30 Z" fill="#fff" stroke="#151515" stroke-width="1.0" stroke-linejoin="round"/>
<path d="M327.40,86.90 L329.65,90.70 L325.15,90.70 Z" fill="#fff" stroke="#151515" stroke-width="1.0" stroke-linejoin="round"/>
<path d="M327.40,99.80 L329.65,103.60 L325.15,103.60 Z" fill="#fff" stroke="#151515" stroke-width="1.0" stroke-linejoin="round"/>
<path d="M326.40,103.90 L328.65,107.70 L324.15,107.70 Z" fill="#fff" stroke="#151515" stroke-width="1.0" stroke-linejoin="round"/>
<path d="M328.40,103.90 L330.65,107.70 L326.15,107.70 Z" fill="#fff" stroke="#151515" stroke-width="1.0" stroke-linejoin="round"/>
<path d="M327.40,108.60 L329.65,112.40 L325.15,112.40 Z" fill="#fff" stroke="#151515" stroke-width="1.0" stroke-linejoin="round"/>
<path d="M337.30,67.10 L339.55,70.90 L335.05,70.90 Z" fill="#fff" stroke="#151515" stroke-width="1.0" stroke-linejoin="round"/>
<path d="M337.30,78.70 L339.55,82.50 L335.05,82.50 Z" fill="#fff" stroke="#151515" stroke-width="1.0" stroke-linejoin="round"/>
<path d="M337.30,93.60 L339.55,97.40 L335.05,97.40 Z" fill="#fff" stroke="#151515" stroke-width="1.0" stroke-linejoin="round"/>
<path d="M337.30,107.90 L339.55,111.70 L335.05,111.70 Z" fill="#fff" stroke="#151515" stroke-width="1.0" stroke-linejoin="round"/>
<path d="M353.20,65.00 L355.45,68.80 L350.95,68.80 Z" fill="#fff" stroke="#151515" stroke-width="1.0" stroke-linejoin="round"/>
<path d="M353.20,70.30 L355.45,74.10 L350.95,74.10 Z" fill="#fff" stroke="#151515" stroke-width="1.0" stroke-linejoin="round"/>
<path d="M353.20,92.40 L355.45,96.20 L350.95,96.20 Z" fill="#fff" stroke="#151515" stroke-width="1.0" stroke-linejoin="round"/>
<path d="M353.20,99.40 L355.45,103.20 L350.95,103.20 Z" fill="#fff" stroke="#151515" stroke-width="1.0" stroke-linejoin="round"/>
<path d="M353.20,103.90 L355.45,107.70 L350.95,107.70 Z" fill="#fff" stroke="#151515" stroke-width="1.0" stroke-linejoin="round"/>
<path d="M362.90,91.50 L365.15,95.30 L360.65,95.30 Z" fill="#fff" stroke="#151515" stroke-width="1.0" stroke-linejoin="round"/>
<path d="M362.90,94.90 L365.15,98.70 L360.65,98.70 Z" fill="#fff" stroke="#151515" stroke-width="1.0" stroke-linejoin="round"/>
<path d="M362.90,97.90 L365.15,101.70 L360.65,101.70 Z" fill="#fff" stroke="#151515" stroke-width="1.0" stroke-linejoin="round"/>
<path d="M362.90,101.90 L365.15,105.70 L360.65,105.70 Z" fill="#fff" stroke="#151515" stroke-width="1.0" stroke-linejoin="round"/>
<path d="M362.90,105.60 L365.15,109.40 L360.65,109.40 Z" fill="#fff" stroke="#151515" stroke-width="1.0" stroke-linejoin="round"/>
<path d="M371.60,117.40 L373.85,121.20 L369.35,121.20 Z" fill="#fff" stroke="#151515" stroke-width="1.0" stroke-linejoin="round"/>
<path d="M374.00,117.90 L376.25,121.70 L371.75,121.70 Z" fill="#fff" stroke="#151515" stroke-width="1.0" stroke-linejoin="round"/>
<path d="M381.60,117.40 L383.85,121.20 L379.35,121.20 Z" fill="#fff" stroke="#151515" stroke-width="1.0" stroke-linejoin="round"/>
<path d="M383.60,117.90 L385.85,121.70 L381.35,121.70 Z" fill="#fff" stroke="#151515" stroke-width="1.0" stroke-linejoin="round"/>
<path d="M399.20,101.20 L401.45,105.00 L396.95,105.00 Z" fill="#fff" stroke="#151515" stroke-width="1.0" stroke-linejoin="round"/>
<path d="M399.20,113.90 L401.45,117.70 L396.95,117.70 Z" fill="#fff" stroke="#151515" stroke-width="1.0" stroke-linejoin="round"/>
<path d="M399.20,116.90 L401.45,120.70 L396.95,120.70 Z" fill="#fff" stroke="#151515" stroke-width="1.0" stroke-linejoin="round"/>
<path d="M408.40,115.40 L410.65,119.20 L406.15,119.20 Z" fill="#fff" stroke="#151515" stroke-width="1.0" stroke-linejoin="round"/>
<path d="M409.60,117.50 L411.85,121.30 L407.35,121.30 Z" fill="#fff" stroke="#151515" stroke-width="1.0" stroke-linejoin="round"/>
<path d="M417.40,118.10 L419.65,121.90 L415.15,121.90 Z" fill="#fff" stroke="#151515" stroke-width="1.0" stroke-linejoin="round"/>
<path d="M419.80,118.10 L422.05,121.90 L417.55,121.90 Z" fill="#fff" stroke="#151515" stroke-width="1.0" stroke-linejoin="round"/>
<path d="M427.40,118.10 L429.65,121.90 L425.15,121.90 Z" fill="#fff" stroke="#151515" stroke-width="1.0" stroke-linejoin="round"/>
<path d="M429.80,118.10 L432.05,121.90 L427.55,121.90 Z" fill="#fff" stroke="#151515" stroke-width="1.0" stroke-linejoin="round"/>
<path d="M444.50,100.30 L446.75,104.10 L442.25,104.10 Z" fill="#fff" stroke="#151515" stroke-width="1.0" stroke-linejoin="round"/>
<path d="M444.50,103.00 L446.75,106.80 L442.25,106.80 Z" fill="#fff" stroke="#151515" stroke-width="1.0" stroke-linejoin="round"/>
<path d="M444.00,105.70 L446.25,109.50 L441.75,109.50 Z" fill="#fff" stroke="#151515" stroke-width="1.0" stroke-linejoin="round"/>
<path d="M445.00,109.00 L447.25,112.80 L442.75,112.80 Z" fill="#fff" stroke="#151515" stroke-width="1.0" stroke-linejoin="round"/>
<path d="M444.50,112.80 L446.75,116.60 L442.25,116.60 Z" fill="#fff" stroke="#151515" stroke-width="1.0" stroke-linejoin="round"/>
<path d="M444.50,115.50 L446.75,119.30 L442.25,119.30 Z" fill="#fff" stroke="#151515" stroke-width="1.0" stroke-linejoin="round"/>
<path d="M454.80,99.20 L457.05,103.00 L452.55,103.00 Z" fill="#fff" stroke="#151515" stroke-width="1.0" stroke-linejoin="round"/>
<path d="M454.80,103.60 L457.05,107.40 L452.55,107.40 Z" fill="#fff" stroke="#151515" stroke-width="1.0" stroke-linejoin="round"/>
<path d="M454.30,106.30 L456.55,110.10 L452.05,110.10 Z" fill="#fff" stroke="#151515" stroke-width="1.0" stroke-linejoin="round"/>
<path d="M455.30,109.00 L457.55,112.80 L453.05,112.80 Z" fill="#fff" stroke="#151515" stroke-width="1.0" stroke-linejoin="round"/>
<path d="M454.80,111.70 L457.05,115.50 L452.55,115.50 Z" fill="#fff" stroke="#151515" stroke-width="1.0" stroke-linejoin="round"/>
<path d="M454.80,115.50 L457.05,119.30 L452.55,119.30 Z" fill="#fff" stroke="#151515" stroke-width="1.0" stroke-linejoin="round"/>
<path d="M464.00,109.00 L466.25,112.80 L461.75,112.80 Z" fill="#fff" stroke="#151515" stroke-width="1.0" stroke-linejoin="round"/>
<path d="M464.00,111.70 L466.25,115.50 L461.75,115.50 Z" fill="#fff" stroke="#151515" stroke-width="1.0" stroke-linejoin="round"/>
<path d="M464.00,115.50 L466.25,119.30 L461.75,119.30 Z" fill="#fff" stroke="#151515" stroke-width="1.0" stroke-linejoin="round"/>
<path d="M474.00,107.40 L476.25,111.20 L471.75,111.20 Z" fill="#fff" stroke="#151515" stroke-width="1.0" stroke-linejoin="round"/>
<path d="M474.00,110.10 L476.25,113.90 L471.75,113.90 Z" fill="#fff" stroke="#151515" stroke-width="1.0" stroke-linejoin="round"/>
<path d="M474.00,113.90 L476.25,117.70 L471.75,117.70 Z" fill="#fff" stroke="#151515" stroke-width="1.0" stroke-linejoin="round"/>
<path d="M399.2,100.6 V67.1 H408.9 V108.6" fill="none" stroke="#333" stroke-width="1"/>
<circle cx="404.10" cy="62.8" r="0.95" fill="#222"/>
<polyline points="114.2,290.0 139.4,288.6 164.9,289.8 190.6,291.6 216.4,289.0" fill="none" stroke="#3a3a3a" stroke-width="1.0"/>
<polyline points="114.2,289.2 139.4,287.0 164.9,289.6 190.6,286.4 216.4,285.5" fill="none" stroke="#2a2a2a" stroke-width="1.3"/>
<polyline points="114.2,249.5 139.4,257.0 164.9,269.8 190.6,278.6 216.4,277.8" fill="none" stroke="#2a2a2a" stroke-width="1.3"/>
<polyline points="114.2,248.0 139.4,252.8 164.9,268.0 190.6,272.7 216.4,279.7" fill="none" stroke="#c4c4c4" stroke-width="1.0"/>
<polyline points="114.2,246.9 139.4,247.3 164.9,258.8 190.6,262.4 216.4,266.0" fill="none" stroke="#cfd2a2" stroke-width="1.0"/>
<polyline points="114.2,247.2 139.4,247.4 164.9,249.0 190.6,248.4 216.4,250.8" fill="none" stroke="#dc3a5a" stroke-width="1.15"/>
<path d="M114.2,285 V294 M112.0,285 H116.4 M112.0,294 H116.4" stroke="#161616" stroke-width="1" fill="none"/>
<circle cx="114.2" cy="290.0" r="3.35" fill="#f4bd2a" stroke="#2e2200" stroke-width="1.2"/>
<path d="M139.4,284 V292 M137.20000000000002,284 H141.6 M137.20000000000002,292 H141.6" stroke="#161616" stroke-width="1" fill="none"/>
<circle cx="139.4" cy="288.6" r="3.35" fill="#f4bd2a" stroke="#2e2200" stroke-width="1.2"/>
<path d="M164.9,285 V294 M162.70000000000002,285 H167.1 M162.70000000000002,294 H167.1" stroke="#161616" stroke-width="1" fill="none"/>
<circle cx="164.9" cy="289.8" r="3.35" fill="#f4bd2a" stroke="#2e2200" stroke-width="1.2"/>
<path d="M190.6,287 V295 M188.4,287 H192.79999999999998 M188.4,295 H192.79999999999998" stroke="#161616" stroke-width="1" fill="none"/>
<circle cx="190.6" cy="291.6" r="3.35" fill="#f4bd2a" stroke="#2e2200" stroke-width="1.2"/>
<path d="M216.4,285 V293 M214.20000000000002,285 H218.6 M214.20000000000002,293 H218.6" stroke="#161616" stroke-width="1" fill="none"/>
<circle cx="216.4" cy="289.0" r="3.35" fill="#f4bd2a" stroke="#2e2200" stroke-width="1.2"/>
<circle cx="114.2" cy="247.2" r="3.35" fill="#c8102e" stroke="#3a0810" stroke-width="1.2"/>
<path d="M139.4,242.2 V252 M137.20000000000002,242.2 H141.6 M137.20000000000002,252 H141.6" stroke="#161616" stroke-width="1" fill="none"/>
<circle cx="139.4" cy="247.4" r="3.35" fill="#c8102e" stroke="#3a0810" stroke-width="1.2"/>
<path d="M164.9,244.3 V253.5 M162.70000000000002,244.3 H167.1 M162.70000000000002,253.5 H167.1" stroke="#161616" stroke-width="1" fill="none"/>
<circle cx="164.9" cy="249.0" r="3.35" fill="#c8102e" stroke="#3a0810" stroke-width="1.2"/>
<path d="M190.6,243.5 V253 M188.4,243.5 H192.79999999999998 M188.4,253 H192.79999999999998" stroke="#161616" stroke-width="1" fill="none"/>
<circle cx="190.6" cy="248.4" r="3.35" fill="#c8102e" stroke="#3a0810" stroke-width="1.2"/>
<path d="M216.4,245.4 V255.5 M214.20000000000002,245.4 H218.6 M214.20000000000002,255.5 H218.6" stroke="#161616" stroke-width="1" fill="none"/>
<circle cx="216.4" cy="250.8" r="3.35" fill="#c8102e" stroke="#3a0810" stroke-width="1.2"/>
<path d="M114.2,240 V254.4 M112.0,240 H116.4 M112.0,254.4 H116.4" stroke="#161616" stroke-width="1" fill="none"/>
<circle cx="114.2" cy="249.5" r="3.35" fill="#4c5366" stroke="#161618" stroke-width="1.2"/>
<path d="M139.4,251 V263.7 M137.20000000000002,251 H141.6 M137.20000000000002,263.7 H141.6" stroke="#161616" stroke-width="1" fill="none"/>
<circle cx="139.4" cy="257.0" r="3.35" fill="#4c5366" stroke="#161618" stroke-width="1.2"/>
<path d="M164.9,264 V280.7 M162.70000000000002,264 H167.1 M162.70000000000002,280.7 H167.1" stroke="#161616" stroke-width="1" fill="none"/>
<circle cx="164.9" cy="269.8" r="3.35" fill="#4c5366" stroke="#161618" stroke-width="1.2"/>
<path d="M190.6,273 V283 M188.4,273 H192.79999999999998 M188.4,283 H192.79999999999998" stroke="#161616" stroke-width="1" fill="none"/>
<circle cx="190.6" cy="278.6" r="3.35" fill="#4c5366" stroke="#161618" stroke-width="1.2"/>
<path d="M216.4,272 V283 M214.20000000000002,272 H218.6 M214.20000000000002,283 H218.6" stroke="#161616" stroke-width="1" fill="none"/>
<circle cx="216.4" cy="277.8" r="3.35" fill="#4c5366" stroke="#161618" stroke-width="1.2"/>
<path d="M114.2,284.5 V294.3 M112.0,284.5 H116.4 M112.0,294.3 H116.4" stroke="#161616" stroke-width="1" fill="none"/>
<circle cx="114.2" cy="289.2" r="3.35" fill="#a5a5d6" stroke="#161618" stroke-width="1.2"/>
<path d="M139.4,283 V291 M137.20000000000002,283 H141.6 M137.20000000000002,291 H141.6" stroke="#161616" stroke-width="1" fill="none"/>
<circle cx="139.4" cy="287.0" r="3.35" fill="#a5a5d6" stroke="#161618" stroke-width="1.2"/>
<path d="M164.9,284.3 V293.8 M162.70000000000002,284.3 H167.1 M162.70000000000002,293.8 H167.1" stroke="#161616" stroke-width="1" fill="none"/>
<circle cx="164.9" cy="289.6" r="3.35" fill="#a5a5d6" stroke="#161618" stroke-width="1.2"/>
<path d="M190.6,282 V292 M188.4,282 H192.79999999999998 M188.4,292 H192.79999999999998" stroke="#161616" stroke-width="1" fill="none"/>
<circle cx="190.6" cy="286.4" r="3.35" fill="#a5a5d6" stroke="#161618" stroke-width="1.2"/>
<path d="M216.4,281 V290 M214.20000000000002,281 H218.6 M214.20000000000002,290 H218.6" stroke="#161616" stroke-width="1" fill="none"/>
<circle cx="216.4" cy="285.5" r="3.35" fill="#a5a5d6" stroke="#161618" stroke-width="1.2"/>
<circle cx="114.2" cy="248.0" r="3.35" fill="#d8d8dc" stroke="#1e1e1e" stroke-width="1.2"/>
<circle cx="139.4" cy="252.8" r="3.35" fill="#d8d8dc" stroke="#1e1e1e" stroke-width="1.2"/>
<path d="M164.9,262 V276.5 M162.70000000000002,262 H167.1 M162.70000000000002,276.5 H167.1" stroke="#161616" stroke-width="1" fill="none"/>
<circle cx="164.9" cy="268.0" r="3.35" fill="#d8d8dc" stroke="#1e1e1e" stroke-width="1.2"/>
<circle cx="190.6" cy="272.7" r="3.35" fill="#d8d8dc" stroke="#1e1e1e" stroke-width="1.2"/>
<circle cx="216.4" cy="279.7" r="3.35" fill="#d8d8dc" stroke="#1e1e1e" stroke-width="1.2"/>
<path d="M114.2,239.8 V254 M112.0,239.8 H116.4 M112.0,254 H116.4" stroke="#161616" stroke-width="1" fill="none"/>
<circle cx="114.2" cy="246.9" r="3.35" fill="#c2cea6" stroke="#1e1e1e" stroke-width="1.2"/>
<path d="M139.4,242.2 V253 M137.20000000000002,242.2 H141.6 M137.20000000000002,253 H141.6" stroke="#161616" stroke-width="1" fill="none"/>
<circle cx="139.4" cy="247.3" r="3.35" fill="#c2cea6" stroke="#1e1e1e" stroke-width="1.2"/>
<path d="M164.9,254 V263 M162.70000000000002,254 H167.1 M162.70000000000002,263 H167.1" stroke="#161616" stroke-width="1" fill="none"/>
<circle cx="164.9" cy="258.8" r="3.35" fill="#c2cea6" stroke="#1e1e1e" stroke-width="1.2"/>
<path d="M190.6,257.5 V267.5 M188.4,257.5 H192.79999999999998 M188.4,267.5 H192.79999999999998" stroke="#161616" stroke-width="1" fill="none"/>
<circle cx="190.6" cy="262.4" r="3.35" fill="#c2cea6" stroke="#1e1e1e" stroke-width="1.2"/>
<path d="M216.4,261 V271 M214.20000000000002,261 H218.6 M214.20000000000002,271 H218.6" stroke="#161616" stroke-width="1" fill="none"/>
<circle cx="216.4" cy="266.0" r="3.35" fill="#c2cea6" stroke="#1e1e1e" stroke-width="1.2"/>
<polyline points="359.3,270.6 385.1,270.0 410.5,269.2 436.2,269.5 461.5,268.5" fill="none" stroke="#3a3a3a" stroke-width="1.0"/>
<polyline points="359.3,267.2 385.1,269.9 410.5,269.0 436.2,268.5 461.5,266.0" fill="none" stroke="#2a2a2a" stroke-width="1.3"/>
<polyline points="359.3,229.0 385.1,236.5 410.5,268.5 436.2,268.5 461.5,266.2" fill="none" stroke="#2a2a2a" stroke-width="1.3"/>
<polyline points="359.3,225.6 385.1,232.0 410.5,262.8 436.2,264.3 461.5,261.5" fill="none" stroke="#c4c4c4" stroke-width="1.0"/>
<polyline points="359.3,233.5 385.1,230.6 410.5,251.0 436.2,259.7 461.5,256.6" fill="none" stroke="#cfd2a2" stroke-width="1.0"/>
<polyline points="359.3,228.6 385.1,230.2 410.5,228.1 436.2,231.2 461.5,230.0" fill="none" stroke="#dc3a5a" stroke-width="1.15"/>
<path d="M359.3,266 V275 M357.1,266 H361.5 M357.1,275 H361.5" stroke="#161616" stroke-width="1" fill="none"/>
<circle cx="359.3" cy="270.6" r="3.35" fill="#f4bd2a" stroke="#2e2200" stroke-width="1.2"/>
<circle cx="385.1" cy="270.0" r="3.35" fill="#f4bd2a" stroke="#2e2200" stroke-width="1.2"/>
<circle cx="410.5" cy="269.2" r="3.35" fill="#f4bd2a" stroke="#2e2200" stroke-width="1.2"/>
<circle cx="436.2" cy="269.5" r="3.35" fill="#f4bd2a" stroke="#2e2200" stroke-width="1.2"/>
<circle cx="461.5" cy="268.5" r="3.35" fill="#f4bd2a" stroke="#2e2200" stroke-width="1.2"/>
<circle cx="359.3" cy="228.6" r="3.35" fill="#c8102e" stroke="#3a0810" stroke-width="1.2"/>
<circle cx="385.1" cy="230.2" r="3.35" fill="#c8102e" stroke="#3a0810" stroke-width="1.2"/>
<path d="M410.5,224.2 V232 M408.3,224.2 H412.7 M408.3,232 H412.7" stroke="#161616" stroke-width="1" fill="none"/>
<circle cx="410.5" cy="228.1" r="3.35" fill="#c8102e" stroke="#3a0810" stroke-width="1.2"/>
<path d="M436.2,225.8 V236.2 M434.0,225.8 H438.4 M434.0,236.2 H438.4" stroke="#161616" stroke-width="1" fill="none"/>
<circle cx="436.2" cy="231.2" r="3.35" fill="#c8102e" stroke="#3a0810" stroke-width="1.2"/>
<path d="M461.5,224.0 V235.5 M459.3,224.0 H463.7 M459.3,235.5 H463.7" stroke="#161616" stroke-width="1" fill="none"/>
<circle cx="461.5" cy="230.0" r="3.35" fill="#c8102e" stroke="#3a0810" stroke-width="1.2"/>
<circle cx="359.3" cy="229.0" r="3.35" fill="#4c5366" stroke="#161618" stroke-width="1.2"/>
<path d="M385.1,231 V241.5 M382.90000000000003,231 H387.3 M382.90000000000003,241.5 H387.3" stroke="#161616" stroke-width="1" fill="none"/>
<circle cx="385.1" cy="236.5" r="3.35" fill="#4c5366" stroke="#161618" stroke-width="1.2"/>
<circle cx="410.5" cy="268.5" r="3.35" fill="#4c5366" stroke="#161618" stroke-width="1.2"/>
<path d="M436.2,263 V273.5 M434.0,263 H438.4 M434.0,273.5 H438.4" stroke="#161616" stroke-width="1" fill="none"/>
<circle cx="436.2" cy="268.5" r="3.35" fill="#4c5366" stroke="#161618" stroke-width="1.2"/>
<path d="M461.5,261 V271.5 M459.3,261 H463.7 M459.3,271.5 H463.7" stroke="#161616" stroke-width="1" fill="none"/>
<circle cx="461.5" cy="266.2" r="3.35" fill="#4c5366" stroke="#161618" stroke-width="1.2"/>
<path d="M359.3,261.7 V274 M357.1,261.7 H361.5 M357.1,274 H361.5" stroke="#161616" stroke-width="1" fill="none"/>
<circle cx="359.3" cy="267.2" r="3.35" fill="#a5a5d6" stroke="#161618" stroke-width="1.2"/>
<path d="M385.1,265.6 V275.6 M382.90000000000003,265.6 H387.3 M382.90000000000003,275.6 H387.3" stroke="#161616" stroke-width="1" fill="none"/>
<circle cx="385.1" cy="269.9" r="3.35" fill="#a5a5d6" stroke="#161618" stroke-width="1.2"/>
<path d="M410.5,264 V274 M408.3,264 H412.7 M408.3,274 H412.7" stroke="#161616" stroke-width="1" fill="none"/>
<circle cx="410.5" cy="269.0" r="3.35" fill="#a5a5d6" stroke="#161618" stroke-width="1.2"/>
<path d="M436.2,263 V274 M434.0,263 H438.4 M434.0,274 H438.4" stroke="#161616" stroke-width="1" fill="none"/>
<circle cx="436.2" cy="268.5" r="3.35" fill="#a5a5d6" stroke="#161618" stroke-width="1.2"/>
<path d="M461.5,261 V271 M459.3,261 H463.7 M459.3,271 H463.7" stroke="#161616" stroke-width="1" fill="none"/>
<circle cx="461.5" cy="266.0" r="3.35" fill="#a5a5d6" stroke="#161618" stroke-width="1.2"/>
<path d="M359.3,222.9 V231 M357.1,222.9 H361.5 M357.1,231 H361.5" stroke="#161616" stroke-width="1" fill="none"/>
<circle cx="359.3" cy="225.6" r="3.35" fill="#d8d8dc" stroke="#1e1e1e" stroke-width="1.2"/>
<circle cx="385.1" cy="232.0" r="3.35" fill="#d8d8dc" stroke="#1e1e1e" stroke-width="1.2"/>
<path d="M410.5,257.5 V268 M408.3,257.5 H412.7 M408.3,268 H412.7" stroke="#161616" stroke-width="1" fill="none"/>
<circle cx="410.5" cy="262.8" r="3.35" fill="#d8d8dc" stroke="#1e1e1e" stroke-width="1.2"/>
<path d="M436.2,259 V269.5 M434.0,259 H438.4 M434.0,269.5 H438.4" stroke="#161616" stroke-width="1" fill="none"/>
<circle cx="436.2" cy="264.3" r="3.35" fill="#d8d8dc" stroke="#1e1e1e" stroke-width="1.2"/>
<path d="M461.5,256.5 V266.5 M459.3,256.5 H463.7 M459.3,266.5 H463.7" stroke="#161616" stroke-width="1" fill="none"/>
<circle cx="461.5" cy="261.5" r="3.35" fill="#d8d8dc" stroke="#1e1e1e" stroke-width="1.2"/>
<path d="M359.3,228 V239.2 M357.1,228 H361.5 M357.1,239.2 H361.5" stroke="#161616" stroke-width="1" fill="none"/>
<circle cx="359.3" cy="233.5" r="3.35" fill="#c2cea6" stroke="#1e1e1e" stroke-width="1.2"/>
<path d="M385.1,225.2 V236 M382.90000000000003,225.2 H387.3 M382.90000000000003,236 H387.3" stroke="#161616" stroke-width="1" fill="none"/>
<circle cx="385.1" cy="230.6" r="3.35" fill="#c2cea6" stroke="#1e1e1e" stroke-width="1.2"/>
<path d="M410.5,245.3 V256.3 M408.3,245.3 H412.7 M408.3,256.3 H412.7" stroke="#161616" stroke-width="1" fill="none"/>
<circle cx="410.5" cy="251.0" r="3.35" fill="#c2cea6" stroke="#1e1e1e" stroke-width="1.2"/>
<path d="M436.2,254.3 V265 M434.0,254.3 H438.4 M434.0,265 H438.4" stroke="#161616" stroke-width="1" fill="none"/>
<circle cx="436.2" cy="259.7" r="3.35" fill="#c2cea6" stroke="#1e1e1e" stroke-width="1.2"/>
<path d="M461.5,251.5 V261.5 M459.3,251.5 H463.7 M459.3,261.5 H463.7" stroke="#161616" stroke-width="1" fill="none"/>
<circle cx="461.5" cy="256.6" r="3.35" fill="#c2cea6" stroke="#1e1e1e" stroke-width="1.2"/>
<path d="M139.40,232.90 V238.50 M137.90,234.70 H140.90 " stroke="#3a3a3a" stroke-width="0.75" fill="none"/>
<path d="M164.60,211.70 V217.30 M163.10,213.50 H166.10 " stroke="#cfcba6" stroke-width="0.75" fill="none"/>
<path d="M164.60,220.20 V225.80 M163.10,222.00 H166.10 " stroke="#bababf" stroke-width="0.75" fill="none"/>
<circle cx="161.60" cy="231.7" r="0.95" fill="#3a3a3a"/>
<circle cx="164.60" cy="231.7" r="0.95" fill="#3a3a3a"/>
<circle cx="167.60" cy="231.7" r="0.95" fill="#3a3a3a"/>
<path d="M162.80,236.00 V241.60 M161.30,237.80 H164.30 M166.40,236.00 V241.60 M164.90,237.80 H167.90 " stroke="#3a3a3a" stroke-width="0.75" fill="none"/>
<circle cx="190.20" cy="200.9" r="0.95" fill="#cfcba6"/>
<path d="M190.20,205.90 V211.50 M188.70,207.70 H191.70 " stroke="#cfcba6" stroke-width="0.75" fill="none"/>
<circle cx="187.20" cy="216.0" r="0.95" fill="#bababf"/>
<circle cx="190.20" cy="216.0" r="0.95" fill="#bababf"/>
<circle cx="193.20" cy="216.0" r="0.95" fill="#bababf"/>
<path d="M188.40,220.50 V226.10 M186.90,222.30 H189.90 M192.00,220.50 V226.10 M190.50,222.30 H193.50 " stroke="#bababf" stroke-width="0.75" fill="none"/>
<circle cx="185.70" cy="231.4" r="0.95" fill="#3a3a3a"/>
<circle cx="188.70" cy="231.4" r="0.95" fill="#3a3a3a"/>
<circle cx="191.70" cy="231.4" r="0.95" fill="#3a3a3a"/>
<circle cx="194.70" cy="231.4" r="0.95" fill="#3a3a3a"/>
<path d="M188.40,235.70 V241.30 M186.90,237.50 H189.90 M192.00,235.70 V241.30 M190.50,237.50 H193.50 " stroke="#3a3a3a" stroke-width="0.75" fill="none"/>
<circle cx="216.40" cy="202.8" r="0.95" fill="#cfcba6"/>
<path d="M216.40,207.80 V213.40 M214.90,209.60 H217.90 " stroke="#cfcba6" stroke-width="0.75" fill="none"/>
<circle cx="214.90" cy="218.2" r="0.95" fill="#bababf"/>
<circle cx="217.90" cy="218.2" r="0.95" fill="#bababf"/>
<path d="M212.80,222.50 V228.10 M211.30,224.30 H214.30 M216.40,222.50 V228.10 M214.90,224.30 H217.90 M220.00,222.50 V228.10 M218.50,224.30 H221.50 " stroke="#bababf" stroke-width="0.75" fill="none"/>
<circle cx="213.40" cy="233.0" r="0.95" fill="#3a3a3a"/>
<circle cx="216.40" cy="233.0" r="0.95" fill="#3a3a3a"/>
<circle cx="219.40" cy="233.0" r="0.95" fill="#3a3a3a"/>
<path d="M214.60,237.30 V242.90 M213.10,239.10 H216.10 M218.20,237.30 V242.90 M216.70,239.10 H219.70 " stroke="#3a3a3a" stroke-width="0.75" fill="none"/>
<circle cx="383.60" cy="220.1" r="0.95" fill="#3a3a3a"/>
<circle cx="386.60" cy="220.1" r="0.95" fill="#3a3a3a"/>
<circle cx="409.00" cy="201.2" r="0.95" fill="#cfcba6"/>
<circle cx="412.00" cy="201.2" r="0.95" fill="#cfcba6"/>
<circle cx="407.50" cy="210.4" r="0.95" fill="#bababf"/>
<circle cx="410.50" cy="210.4" r="0.95" fill="#bababf"/>
<circle cx="413.50" cy="210.4" r="0.95" fill="#bababf"/>
<circle cx="406.00" cy="219.6" r="0.95" fill="#3a3a3a"/>
<circle cx="409.00" cy="219.6" r="0.95" fill="#3a3a3a"/>
<circle cx="412.00" cy="219.6" r="0.95" fill="#3a3a3a"/>
<circle cx="415.00" cy="219.6" r="0.95" fill="#3a3a3a"/>
<circle cx="431.70" cy="202.0" r="0.95" fill="#cfcba6"/>
<circle cx="434.70" cy="202.0" r="0.95" fill="#cfcba6"/>
<circle cx="437.70" cy="202.0" r="0.95" fill="#cfcba6"/>
<circle cx="440.70" cy="202.0" r="0.95" fill="#cfcba6"/>
<circle cx="431.70" cy="211.2" r="0.95" fill="#bababf"/>
<circle cx="434.70" cy="211.2" r="0.95" fill="#bababf"/>
<circle cx="437.70" cy="211.2" r="0.95" fill="#bababf"/>
<circle cx="440.70" cy="211.2" r="0.95" fill="#bababf"/>
<circle cx="431.70" cy="220.8" r="0.95" fill="#3a3a3a"/>
<circle cx="434.70" cy="220.8" r="0.95" fill="#3a3a3a"/>
<circle cx="437.70" cy="220.8" r="0.95" fill="#3a3a3a"/>
<circle cx="440.70" cy="220.8" r="0.95" fill="#3a3a3a"/>
<circle cx="457.00" cy="201.5" r="0.95" fill="#cfcba6"/>
<circle cx="460.00" cy="201.5" r="0.95" fill="#cfcba6"/>
<circle cx="463.00" cy="201.5" r="0.95" fill="#cfcba6"/>
<circle cx="466.00" cy="201.5" r="0.95" fill="#cfcba6"/>
<circle cx="458.50" cy="210.4" r="0.95" fill="#bababf"/>
<circle cx="461.50" cy="210.4" r="0.95" fill="#bababf"/>
<circle cx="464.50" cy="210.4" r="0.95" fill="#bababf"/>
<circle cx="457.00" cy="219.6" r="0.95" fill="#3a3a3a"/>
<circle cx="460.00" cy="219.6" r="0.95" fill="#3a3a3a"/>
<circle cx="463.00" cy="219.6" r="0.95" fill="#3a3a3a"/>
<circle cx="466.00" cy="219.6" r="0.95" fill="#3a3a3a"/>
<path d="M434.40,276.80 V282.40 M432.90,278.60 H435.90 M438.00,276.80 V282.40 M436.50,278.60 H439.50 " stroke="#cfcba6" stroke-width="0.75" fill="none"/>
<path d="M461.50,276.50 V282.10 M460.00,278.30 H463.00 " stroke="#cfcba6" stroke-width="0.75" fill="none"/>
<path d="M406.90,286.20 V291.80 M405.40,288.00 H408.40 M410.50,286.20 V291.80 M409.00,288.00 H412.00 M414.10,286.20 V291.80 M412.60,288.00 H415.60 " stroke="#bababf" stroke-width="0.75" fill="none"/>
<path d="M430.80,286.50 V292.10 M429.30,288.30 H432.30 M434.40,286.50 V292.10 M432.90,288.30 H435.90 M438.00,286.50 V292.10 M436.50,288.30 H439.50 M441.60,286.50 V292.10 M440.10,288.30 H443.10 " stroke="#bababf" stroke-width="0.75" fill="none"/>
<path d="M459.70,286.30 V291.90 M458.20,288.10 H461.20 M463.30,286.30 V291.90 M461.80,288.10 H464.80 " stroke="#bababf" stroke-width="0.75" fill="none"/>
<path d="M405.10,295.50 V301.10 M403.60,297.30 H406.60 M408.70,295.50 V301.10 M407.20,297.30 H410.20 M412.30,295.50 V301.10 M410.80,297.30 H413.80 M415.90,295.50 V301.10 M414.40,297.30 H417.40 " stroke="#3a3a3a" stroke-width="0.75" fill="none"/>
<path d="M430.80,295.30 V300.90 M429.30,297.10 H432.30 M434.40,295.30 V300.90 M432.90,297.10 H435.90 M438.00,295.30 V300.90 M436.50,297.10 H439.50 M441.60,295.30 V300.90 M440.10,297.10 H443.10 " stroke="#3a3a3a" stroke-width="0.75" fill="none"/>
<path d="M456.10,295.30 V300.90 M454.60,297.10 H457.60 M459.70,295.30 V300.90 M458.20,297.10 H461.20 M463.30,295.30 V300.90 M461.80,297.10 H464.80 M466.90,295.30 V300.90 M465.40,297.10 H468.40 " stroke="#3a3a3a" stroke-width="0.75" fill="none"/>
</svg></body></html>
